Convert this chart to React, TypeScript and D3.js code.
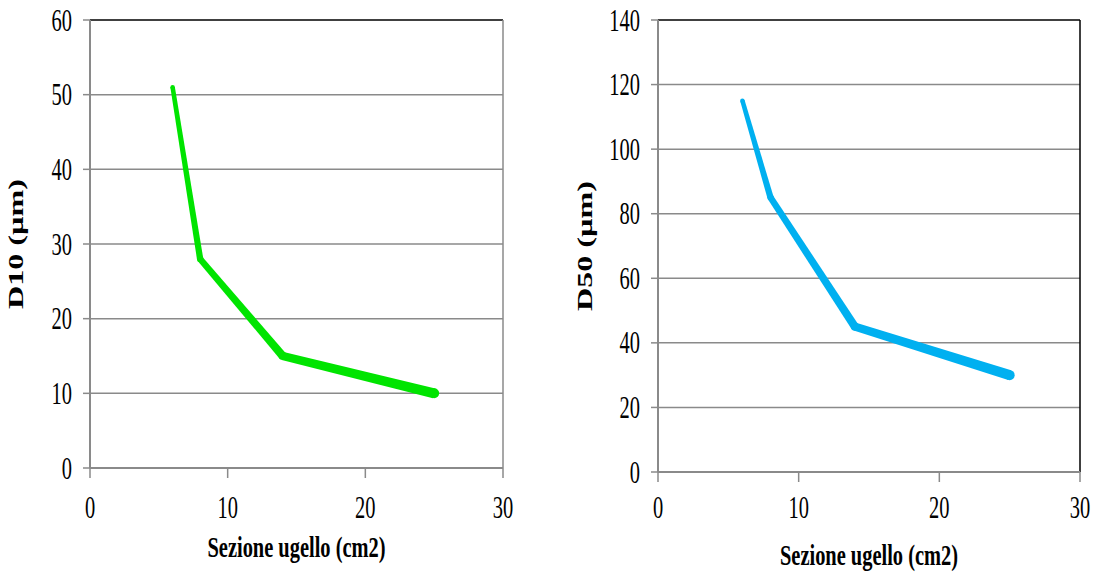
import * as d3 from 'd3'

// nozzle section (cm2)
const sections = [6, 8, 14, 25]
const d10 = [51, 28, 15, 10]
const d50 = [115, 85, 45, 30]
const xTicks = [0, 10, 20, 30]
const d10Ticks = [0, 10, 20, 30, 40, 50, 60]
const d50Ticks = [0, 20, 40, 60, 80, 100, 120, 140]

const FONT = 'Liberation Serif, Tinos, DejaVu Serif, serif'

type PanelProps = {
  left: number; right: number; top: number; bottom: number
  ys: number[]; yTicks: number[]; color: string
  yLabel: string; yLabelX: number; xLabelY: number
  rightBorder: string
}

function Panel({left, right, top, bottom, ys, yTicks, color, yLabel, yLabelX, xLabelY, rightBorder}: PanelProps){
  const x = d3.scaleLinear().domain([0, 30]).range([left, right])
  const y = d3.scaleLinear().domain([0, d3.max(yTicks)!]).range([bottom, top])
  const pts = sections.map((s, i) => [x(s), y(ys[i])] as [number, number])

  // line gets thicker toward the end, like the original
  const w0 = 4.5, w1 = 10
  const widthAt = (i: number) => w0 + (w1 - w0) * i / (pts.length - 1)
  const segs = pts.slice(1).map((p, i) => {
    const a = pts[i], b = p
    const dx = b[0] - a[0], dy = b[1] - a[1]
    const len = Math.hypot(dx, dy)
    const nx = -dy / len, ny = dx / len
    const ha = widthAt(i) / 2, hb = widthAt(i + 1) / 2
    return [
      [a[0] + nx * ha, a[1] + ny * ha],
      [b[0] + nx * hb, b[1] + ny * hb],
      [b[0] - nx * hb, b[1] - ny * hb],
      [a[0] - nx * ha, a[1] - ny * ha],
    ].map(q => q.join(',')).join(' ')
  })

  const cx = (left + right) / 2
  const cy = (top + bottom) / 2
  const grey = '#8a8a8a'

  return (
    <g style={{fontFamily: FONT}}>
      {yTicks.filter(t => t > 0 && t < d3.max(yTicks)!).map(t => (
        <line key={t} x1={left} x2={right} y1={y(t)} y2={y(t)} stroke={grey} strokeWidth={1.5} />
      ))}
      <line x1={left} x2={right} y1={top} y2={top} stroke="#000" strokeWidth={1.5} />
      <line x1={right} x2={right} y1={top} y2={bottom} stroke={rightBorder} strokeWidth={1.5} />
      <line x1={left} x2={left} y1={top} y2={bottom} stroke={grey} strokeWidth={2} />
      <line x1={left} x2={right} y1={bottom} y2={bottom} stroke={grey} strokeWidth={2} />
      {yTicks.map(t => (
        <g key={t}>
          <line x1={left - 7} x2={left} y1={y(t)} y2={y(t)} stroke={grey} strokeWidth={1.5} />
          <text transform={`translate(${left - 18},${y(t) + 10.5}) scale(0.66,1)`} textAnchor="end"
            fontSize={31} fill="#000">{t}</text>
        </g>
      ))}
      {xTicks.map(t => (
        <g key={t}>
          <line x1={x(t)} x2={x(t)} y1={bottom} y2={bottom + 10} stroke={grey} strokeWidth={1.5} />
          <text transform={`translate(${x(t)},518) scale(0.66,1)`} textAnchor="middle"
            fontSize={31} fill="#000">{t}</text>
        </g>
      ))}
      {segs.map((s, i) => <polygon key={i} points={s} fill={color} />)}
      {pts.map((p, i) => <circle key={i} cx={p[0]} cy={p[1]} r={widthAt(i) / 2} fill={color} />)}
      <text x={cx} y={xLabelY} textAnchor="middle" fontSize={30} fontWeight="bold"
        textLength={178} lengthAdjust="spacingAndGlyphs">Sezione ugello (cm2)</text>
      <text transform={`translate(${yLabelX},${cy}) rotate(-90)`} textAnchor="middle"
        fontSize={22} fontWeight="bold" textLength={130} lengthAdjust="spacingAndGlyphs">{yLabel}</text>
    </g>
  )
}

export default function App(){
  return (
    <div style={{position: 'absolute', left: 0, top: 0}}>
      <svg width={1103} height={573} style={{display: 'block', background: '#fff'}}>
        <Panel left={90} right={503} top={20} bottom={468} ys={d10} yTicks={d10Ticks} color="#00e400"
          yLabel="D10 (µm)" yLabelX={23} xLabelY={557} rightBorder="#8a8a8a" />
        <Panel left={658} right={1080} top={20} bottom={472} ys={d50} yTicks={d50Ticks} color="#00b0f0"
          yLabel="D50 (µm)" yLabelX={592} xLabelY={565} rightBorder="#000" />
      </svg>
    </div>
  )
}
